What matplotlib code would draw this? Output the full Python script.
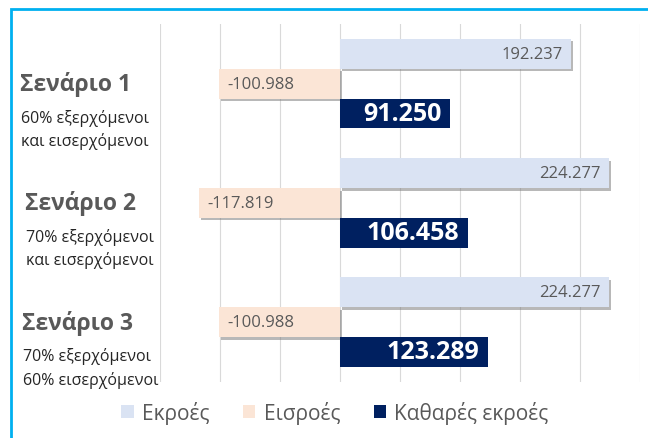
import numpy as np
import matplotlib.pyplot as plt
import matplotlib.patheffects as pe
from matplotlib.patches import Patch, Rectangle
from matplotlib.transforms import blended_transform_factory

plt.rcParams['font.family'] = ['Open Sans', 'Noto Sans', 'DejaVu Sans']

scenarios = ["Σενάριο 1", "Σενάριο 2", "Σενάριο 3"]
scenario_notes = ["60% εξερχόμενοι\nκαι εισερχόμενοι",
                  "70% εξερχόμενοι\nκαι εισερχόμενοι",
                  "70% εξερχόμενοι\n60% εισερχόμενοι"]
outflows = [192.237, 224.277, 224.277]
inflows = [-100.988, -117.819, -100.988]
net_outflows = [91.250, 106.458, 123.289]
series_names = ["Εκροές", "Εισροές", "Καθαρές εκροές"]

colors = ["#DAE3F3", "#FBE5D6", "#002060"]


def fmt(v):
    return f"{v:.3f}"


fig = plt.figure(figsize=(6.48, 4.39), dpi=100)
fig.set_facecolor("white")
ax = fig.add_axes([0.247, 0.128, 0.741, 0.815])

y = np.arange(len(scenarios))
h = 0.25
shadow = [pe.SimplePatchShadow(offset=(1.5, -1.8), shadow_rgbFace="#7f7f7f", alpha=0.55), pe.Normal()]

b1 = ax.barh(y - h, outflows, height=h, color=colors[0])
b2 = ax.barh(y, inflows, height=h, color=colors[1])
b3 = ax.barh(y + h, net_outflows, height=h, color=colors[2])
for b in list(b1) + list(b2):
    b.set_path_effects(shadow)

for i in range(len(scenarios)):
    ax.text(outflows[i] - 7, y[i] - h, fmt(outflows[i]), ha="right", va="center",
            fontsize=12, color="#595959")
    ax.text(inflows[i] + 7, y[i], fmt(inflows[i]), ha="left", va="center",
            fontsize=12, color="#595959")
    ax.text(net_outflows[i] - 7, y[i] + h, fmt(net_outflows[i]), ha="right", va="center",
            fontsize=18, fontweight="bold", color="white")

ax.set_xlim(-150, 250)
ax.set_xticks(np.arange(-150, 251, 50))
ax.set_ylim(len(scenarios) - 0.5, -0.5)
ax.grid(axis="x", color="#D9D9D9", linewidth=0.8)
ax.set_axisbelow(True)
ax.tick_params(left=False, bottom=False, labelleft=False, labelbottom=False)
for s in ax.spines.values():
    s.set_visible(False)

# scenario labels on the left
tr = blended_transform_factory(fig.transFigure, ax.transData)
title_x = [20, 25, 22]
for i, (name, note) in enumerate(zip(scenarios, scenario_notes)):
    ax.text(title_x[i] / 648, y[i], name, transform=tr, ha="left", va="center",
            fontsize=16.5, fontweight="bold", color="#595959")
    ax.text(title_x[i] / 648 + 0.002, y[i] + 0.21, note, transform=tr, ha="left", va="top",
            fontsize=11.5, color="#262626", linespacing=1.5)

handles = [Patch(facecolor=c, label=n) for c, n in zip(colors, series_names)]
fig.legend(handles=handles, loc="center", bbox_to_anchor=(0.517, 0.058), ncol=3,
           frameon=False, fontsize=15, handlelength=0.6, handleheight=0.6,
           handletextpad=0.4, columnspacing=1.6, labelcolor="#595959")

# outer frame
fig.patches.append(Rectangle((11 / 648, -0.1), 1.2, 1 - 10 / 439 + 0.1, transform=fig.transFigure,
                             fill=False, edgecolor="#00B0F0", linewidth=2, zorder=0))

fig.savefig("out.png", dpi=100)
